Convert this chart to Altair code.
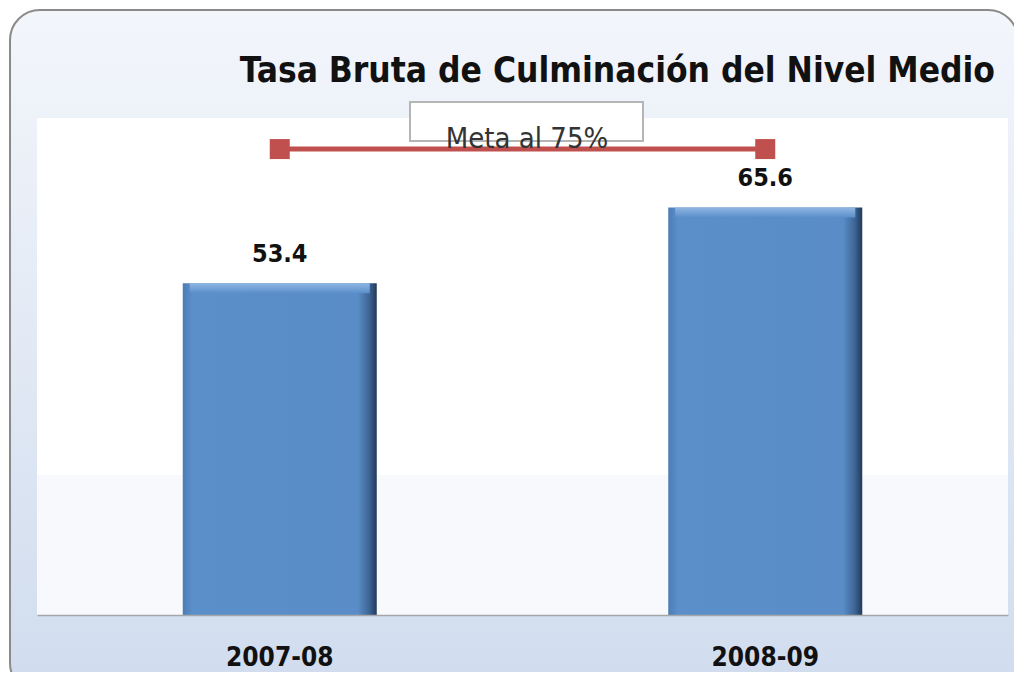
import altair as alt
import pandas as pd

categories = ["2007-08", "2008-09"]
values = [53.4, 65.6]
meta_value = 75
meta_label = "Meta al 75%"
title_text = "Tasa Bruta de Culminación del Nivel Medio"

FONT = "DejaVu Sans Condensed"

df = pd.DataFrame({"periodo": categories, "tasa": values})
df["label"] = [f"{v:.1f}" for v in values]
meta_df = pd.DataFrame({"periodo": categories, "meta": [meta_value] * len(categories)})
one = alt.Data(values=[{"k": 1}])

x_enc = alt.X(
    "periodo:N",
    sort=categories,
    scale=alt.Scale(paddingInner=0.1, paddingOuter=0.05),
    axis=alt.Axis(
        title=None, labelAngle=0, ticks=False, domainColor="#a6a6a6", domainWidth=1.5,
        labelFontSize=26, labelFontWeight="bold", labelFont=FONT, labelColor="#111111",
        labelPadding=29, zindex=1,
    ),
)
y_scale = alt.Scale(domain=[0, 80])

# frame with gradient background
frame = alt.Chart(one).mark_rect(
    cornerRadius=30,
    stroke="#8a8a8a",
    strokeWidth=2,
    fill=alt.Gradient(
        gradient="linear",
        stops=[alt.GradientStop(color="#f3f6fb", offset=0), alt.GradientStop(color="#d0dcee", offset=1)],
        x1=0, x2=0, y1=0, y2=1,
    ),
).encode(x=alt.value(-27), x2=alt.value(981), y=alt.value(-108), y2=alt.value(575))

plot_bg = alt.Chart(one).mark_rect(fill="#ffffff").encode(
    x=alt.value(0), x2=alt.value(971), y=alt.value(0), y2=alt.value(497)
)
plot_bg_low = alt.Chart(one).mark_rect(fill="#f7f9fd").encode(
    x=alt.value(0), x2=alt.value(971), y=alt.value(357), y2=alt.value(497)
)

bars = alt.Chart(df).mark_bar(
    size=194,
    fill=alt.Gradient(
        gradient="linear",
        stops=[
            alt.GradientStop(color="#4c7cb6", offset=0),
            alt.GradientStop(color="#5b8fca", offset=0.05),
            alt.GradientStop(color="#5a8dc8", offset=0.9),
            alt.GradientStop(color="#3e6696", offset=0.96),
            alt.GradientStop(color="#22395a", offset=1),
        ],
        x1=0, x2=1, y1=0, y2=0,
    ),
).encode(x=x_enc, y=alt.Y("tasa:Q", scale=y_scale, axis=None))

bar_top = alt.Chart(df).transform_calculate(top2="datum.tasa - 1.6").mark_bar(
    size=180,
    fill=alt.Gradient(
        gradient="linear",
        stops=[alt.GradientStop(color="#8fb6e2", offset=0), alt.GradientStop(color="#5b8fca", offset=1)],
        x1=0, x2=0, y1=0, y2=1,
    ),
).encode(x=x_enc, y=alt.Y("tasa:Q", scale=y_scale, axis=None), y2="top2:Q")

labels = alt.Chart(df).mark_text(
    font=FONT, fontSize=25, fontWeight="bold", color="#111111", baseline="bottom", dy=-16
).encode(x=x_enc, y=alt.Y("tasa:Q", scale=y_scale), text="label:N")

meta_box = alt.Chart(one).mark_rect(fill="#ffffff", stroke="#b5b5b5", strokeWidth=2).encode(
    x=alt.value(373), x2=alt.value(606), y=alt.value(-16), y2=alt.value(23)
)

meta_line = alt.Chart(meta_df).mark_line(
    color="#c0504d", strokeWidth=5,
    point=alt.OverlayMarkDef(shape="square", size=400, filled=True, color="#c0504d"),
).encode(x=x_enc, y=alt.Y("meta:Q", scale=y_scale))

meta_text = alt.Chart(one).mark_text(
    text=meta_label, font=FONT, fontSize=29, color="#333333", align="center", baseline="alphabetic"
).encode(x=alt.value(490), y=alt.value(30))

title = alt.Chart(one).mark_text(
    text=title_text, font=FONT, fontSize=35, fontWeight="bold", color="#111111",
    align="right", baseline="alphabetic",
).encode(x=alt.value(958), y=alt.value(-36))

chart = alt.layer(
    frame, plot_bg, plot_bg_low, bars, bar_top, labels, meta_box, meta_line, meta_text, title
).properties(
    width=971, height=497,
    autosize=alt.AutoSizeParams(type="none"),
    padding={"left": 29, "top": 110, "right": 6, "bottom": 57},
    background="#ffffff",
).configure_view(stroke=None)

chart.save("out.html", embed_options={"renderer": "svg", "actions": False})
